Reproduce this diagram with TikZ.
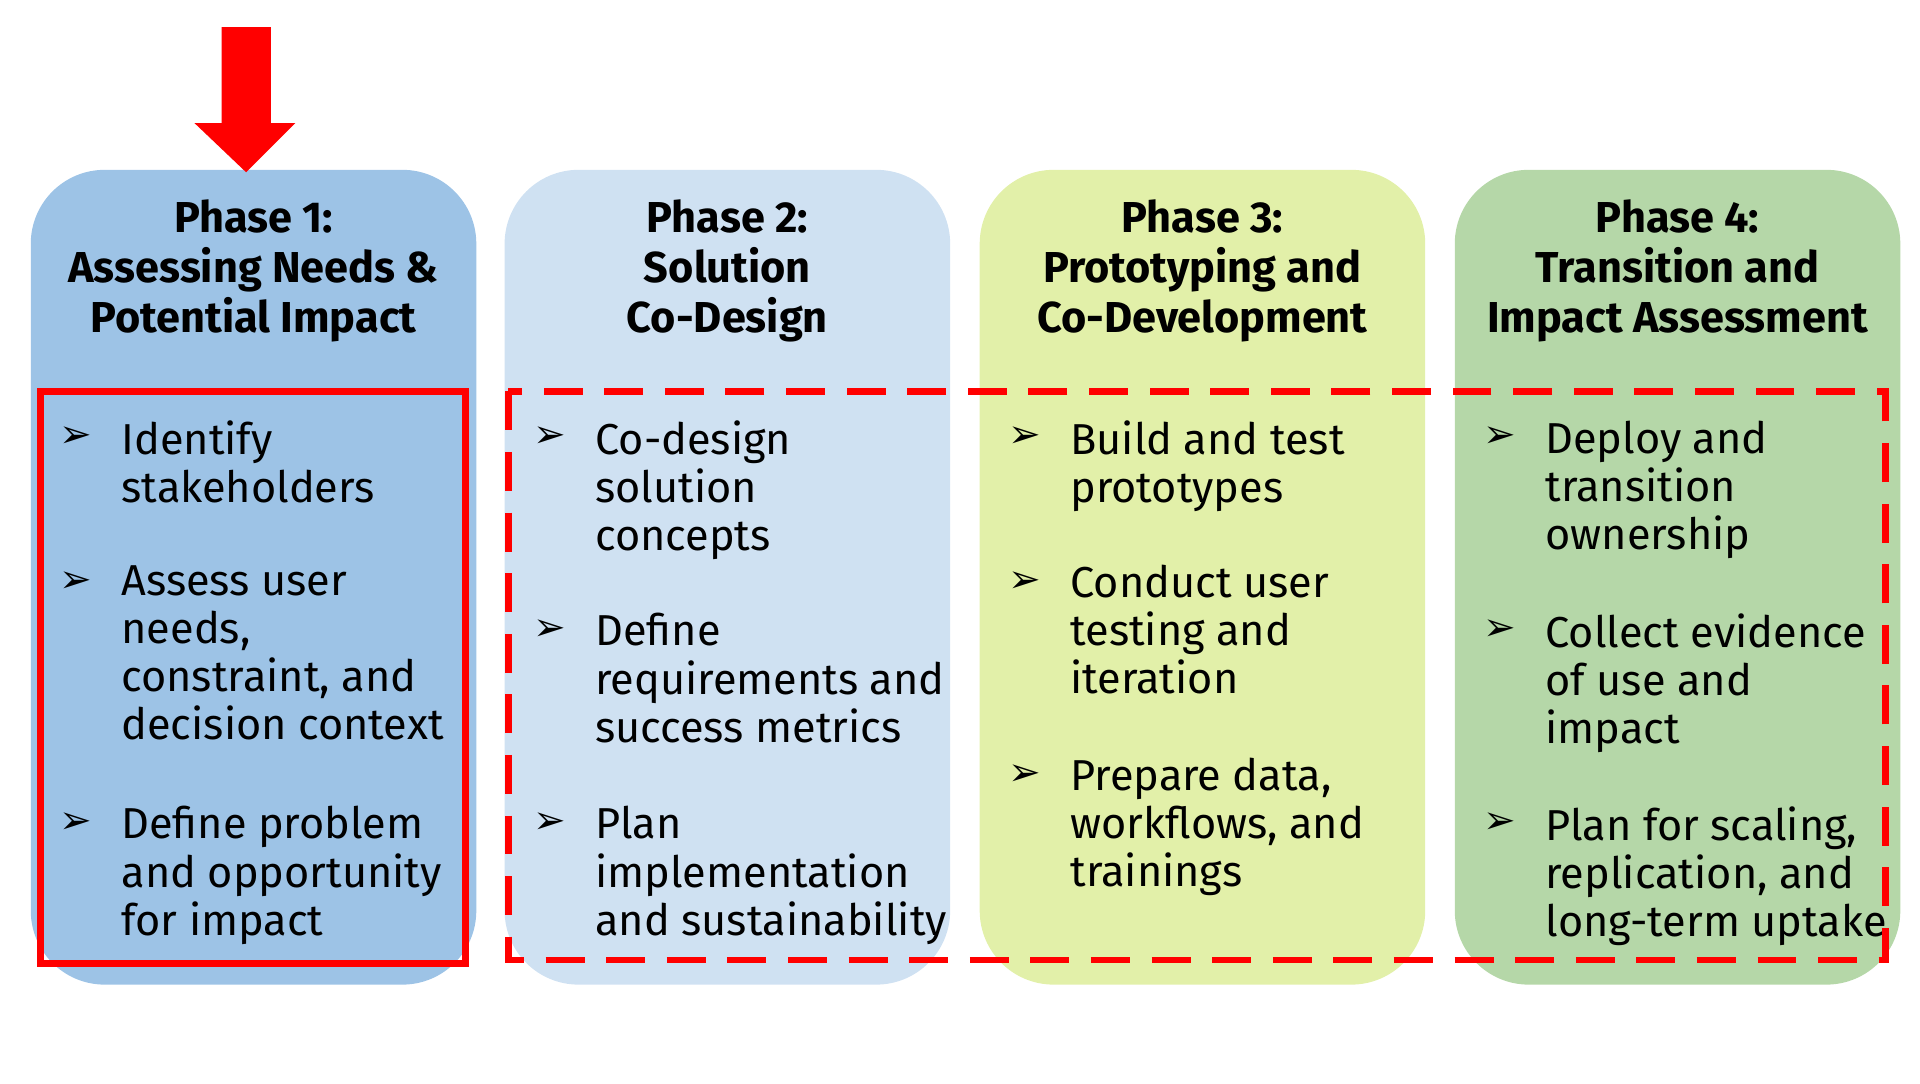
\documentclass[tikz,border=0pt]{standalone}
\usepackage{fontspec}
\setmainfont{Fira Sans}
\newfontfamily\symfont{DejaVu Sans}
\usetikzlibrary{positioning}
\definecolor{phaseone}{HTML}{9DC3E6}
\definecolor{phasetwo}{HTML}{CFE1F2}
\definecolor{phasethree}{HTML}{E2F0A9}
\definecolor{phasefour}{HTML}{B5D7A8}
\tikzset{
    phase/.style = {fill=#1, rounded corners=0.6cm},
    title/.style = {align=center, font=\fontsize{10}{11.6}\selectfont\bfseries},
    item/.style = {anchor=north west, align=left, inner sep=0pt, font=\fontsize{10}{11.1}\selectfont},
    bullet/.style = {anchor=west, inner sep=0pt, font=\symfont\fontsize{9}{9}\selectfont}
}
% #1 box left edge, #2 first line index, #3 name, #4 text
\newcommand{\phaseitem}[4]{%
    \node [bullet] (b#3) at (#1+23, 355+39.2*#2) {\char"27A2};
    \node [item] (t#3) at (#1+73, 341+39.2*#2) {#4};}
\begin{document}
\begin{tikzpicture}[x=0.01cm, y=-0.01cm]
    \useasboundingbox (0,0) rectangle (1560,880);
    % phase boxes
    \fill [phase=phaseone] (25,138) rectangle (387,800);
    \fill [phase=phasetwo] (410,138) rectangle (772,800);
    \fill [phase=phasethree] (796,138) rectangle (1158,800);
    \fill [phase=phasefour] (1182,138) rectangle (1544,800);
    % titles
    \node [title] (p1) at (206,220) {Phase 1:\\Assessing Needs \&\\Potential Impact};
    \node [title] (p2) at (591,220) {Phase 2:\\Solution\\Co-Design};
    \node [title] (p3) at (977,220) {Phase 3:\\Prototyping and\\Co-Development};
    \node [title] (p4) at (1363,220) {Phase 4:\\Transition and\\Impact Assessment};
    % items
    \phaseitem{25}{0}{a1}{Identify\\stakeholders}
    \phaseitem{25}{3}{a2}{Assess user\\needs,\\constraint, and\\decision context}
    \phaseitem{25}{8}{a3}{Define problem\\and opportunity\\for impact}
    \phaseitem{410}{0}{b1}{Co-design\\solution\\concepts}
    \phaseitem{410}{4}{b2}{Define\\requirements and\\success metrics}
    \phaseitem{410}{8}{b3}{Plan\\implementation\\and sustainability}
    \phaseitem{796}{0}{c1}{Build and test\\prototypes}
    \phaseitem{796}{3}{c2}{Conduct user\\testing and\\iteration}
    \phaseitem{796}{7}{c3}{Prepare data,\\workflows, and\\trainings}
    \phaseitem{1182}{0}{d1}{Deploy and\\transition\\ownership}
    \phaseitem{1182}{4}{d2}{Collect evidence\\of use and\\impact}
    \phaseitem{1182}{8}{d3}{Plan for scaling,\\replication, and\\long-term uptake}
    % highlights
    \draw [red, line width=1.6pt] (33,318) rectangle (378,783);
    \draw [red, line width=1.6pt, dash pattern=on 9pt off 5pt] (413,318) rectangle (1532,780);
    \fill [red] (180,22) -- (220,22) -- (220,100) -- (240,100) -- (200,140)
        -- (158,100) -- (180,100) -- cycle;
\end{tikzpicture}
\end{document}
